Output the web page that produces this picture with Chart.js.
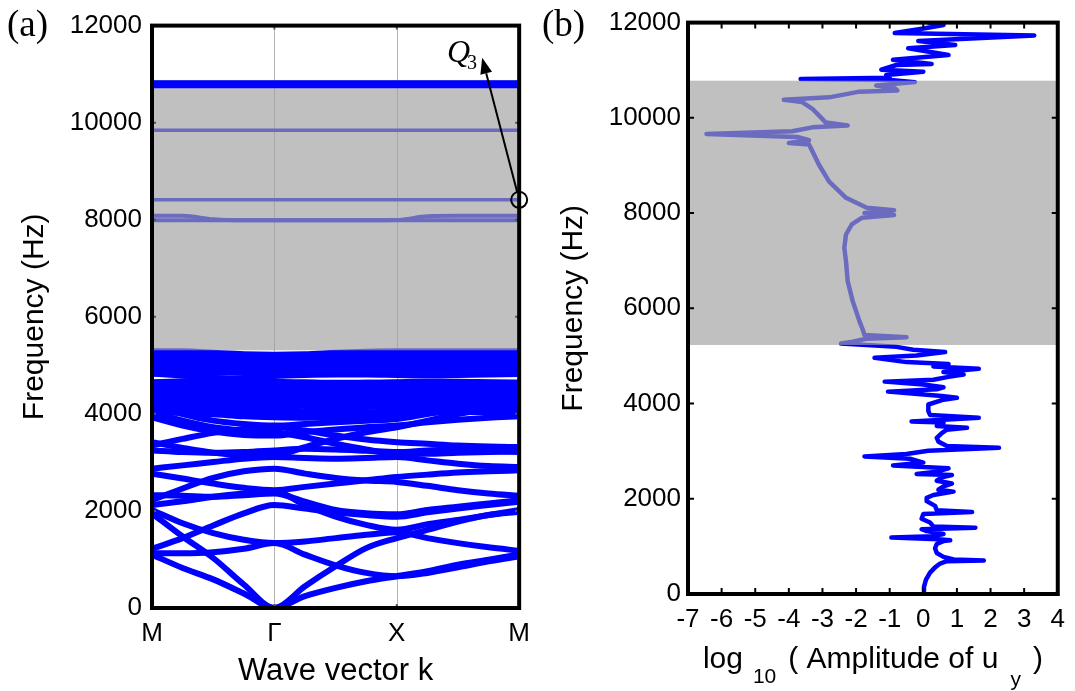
<!DOCTYPE html>
<html lang="en">
<head>
<meta charset="UTF-8">
<title>Band structure and response amplitude</title>
<script src="https://cdn.jsdelivr.net/npm/chart.js"></script>
<style>
  body { margin: 0; background: #fff; }
  .panel { position: absolute; top: 0; }
  #bandPanel { left: 0; width: 540px; height: 691px; }
  #ampPanel { left: 540px; width: 535px; height: 691px; }
</style>
</head>
<body>
<div id="bandPanel" class="panel"><canvas id="bandChart" width="540" height="691"></canvas></div>
<div id="ampPanel" class="panel"><canvas id="ampChart" width="535" height="691"></canvas></div>
<script>
// ---- (a) dispersion curves along M - Γ - X - M ----
const kPoints = [0, 0.25, 0.5, 0.75, 1, 1.25, 1.5, 1.75, 2, 2.25, 2.5, 2.75, 3];
const kLabels = ['M', 'Γ', 'X', 'M'];
const freqTicks = [0, 2000, 4000, 6000, 8000, 10000, 12000];

// flat bands in / above the gap
const bandTop  = [10790, 10790, 10790, 10790, 10790, 10790, 10790, 10790, 10790, 10790, 10790, 10790, 10790];
const band9845 = [9845, 9845, 9845, 9845, 9845, 9845, 9845, 9845, 9845, 9845, 9845, 9845, 9845];
const bandQ3   = [8411, 8411, 8411, 8411, 8411, 8411, 8411, 8411, 8411, 8411, 8411, 8411, 8411];
const band7990 = [7990, 7990, 7990, 7990, 7990, 7990, 7990, 7990, 7990, 7990, 7990, 7990, 7990];
const band8080 = [8080, 8080, 8010, 7990, 7990, 7990, 7990, 7990, 7995, 8070, 8080, 8080, 8080];

// dense bands just below the gap
const upperBands = [
  [5290, 5290, 5260, 5230, 5220, 5230, 5260, 5280, 5290, 5290, 5290, 5290, 5290],
  [5230, 5220, 5190, 5160, 5150, 5170, 5200, 5220, 5230, 5230, 5230, 5230, 5230],
  [5170, 5160, 5130, 5100, 5090, 5110, 5140, 5160, 5170, 5170, 5170, 5170, 5170],
  [5110, 5100, 5080, 5050, 5040, 5060, 5090, 5110, 5110, 5110, 5110, 5110, 5110],
  [5050, 5050, 5040, 5020, 5010, 5020, 5040, 5050, 5050, 5050, 5050, 5050, 5050],
  [4990, 4990, 4990, 4980, 4970, 4980, 4990, 5000, 5000, 4990, 4990, 4990, 4990],
  [4930, 4930, 4940, 4940, 4930, 4930, 4940, 4950, 4950, 4940, 4930, 4930, 4930],
  [4870, 4880, 4890, 4900, 4890, 4880, 4880, 4900, 4900, 4890, 4880, 4870, 4870],
  [4830, 4830, 4840, 4850, 4860, 4840, 4830, 4840, 4850, 4840, 4830, 4830, 4830],
  [4830, 4790, 4740, 4700, 4660, 4650, 4640, 4640, 4650, 4660, 4660, 4650, 4640],
  [4650, 4670, 4700, 4740, 4780, 4800, 4810, 4810, 4800, 4790, 4800, 4810, 4820]
];
const lowerBands = [
  [4640, 4640, 4620, 4600, 4590, 4600, 4620, 4640, 4640, 4640, 4640, 4640, 4640],
  [4580, 4580, 4570, 4560, 4540, 4550, 4570, 4580, 4590, 4590, 4580, 4580, 4580],
  [4520, 4520, 4510, 4500, 4490, 4500, 4510, 4520, 4530, 4530, 4520, 4520, 4520],
  [4460, 4460, 4460, 4450, 4440, 4450, 4460, 4470, 4470, 4470, 4460, 4460, 4460],
  [4400, 4400, 4400, 4380, 4370, 4390, 4400, 4410, 4410, 4410, 4400, 4400, 4400],
  [4340, 4340, 4320, 4290, 4270, 4290, 4320, 4350, 4350, 4350, 4340, 4340, 4340],
  [4280, 4270, 4240, 4220, 4230, 4250, 4270, 4290, 4290, 4290, 4290, 4280, 4280],
  [4220, 4200, 4170, 4150, 4150, 4170, 4200, 4220, 4230, 4230, 4220, 4220, 4220],
  [4160, 4140, 4100, 4060, 4040, 4060, 4100, 4140, 4160, 4170, 4160, 4160, 4160],
  [4100, 4080, 4040, 4020, 4030, 4020, 4010, 4030, 4060, 4080, 4090, 4100, 4100],
  [4040, 4020, 3990, 3950, 3930, 3920, 3930, 3960, 4000, 4020, 4040, 4040, 4040]
];
// lower branches, acoustic ones start at Γ
const lowBands = [
  [1100, 825, 590, 300, 0, 245, 416, 552, 655, 757, 893, 995, 1100],
  [1950, 1473, 1030, 484, 0, 450, 860, 1234, 1440, 1610, 1780, 1915, 1985],
  [1130, 1130, 1150, 1220, 1337, 1100, 880, 723, 655, 723, 840, 960, 1064],
  [1220, 1440, 1700, 1950, 2121, 2050, 1970, 1915, 1882, 1970, 2050, 2121, 2189],
  [2020, 1746, 1541, 1405, 1337, 1370, 1440, 1507, 1560, 1440, 1337, 1250, 1180],
  [2121, 2200, 2292, 2360, 2407, 2121, 1882, 1712, 1610, 1725, 1814, 1915, 2020],
  [2223, 2462, 2680, 2816, 2871, 2769, 2680, 2626, 2598, 2517, 2428, 2360, 2312],
  [2325, 2312, 2292, 2325, 2360, 2189, 2020, 1950, 1930, 2020, 2087, 2155, 2223],
  [2769, 2667, 2564, 2476, 2428, 2496, 2564, 2632, 2701, 2748, 2790, 2816, 2837],
  [2871, 2939, 3008, 3076, 3110, 3090, 3076, 3090, 3110, 3042, 2974, 2925, 2905],
  [3246, 3212, 3198, 3212, 3246, 3280, 3266, 3240, 3212, 3246, 3266, 3246, 3212],
  [3349, 3485, 3608, 3690, 3724, 3656, 3553, 3470, 3417, 3383, 3349, 3328, 3315],
  [3928, 3758, 3635, 3567, 3553, 3621, 3676, 3724, 3758, 3826, 3881, 3922, 3949],
  [4031, 3860, 3724, 3656, 3621, 3519, 3383, 3266, 3178, 3178, 3198, 3212, 3226],
  [4099, 4065, 4031, 4017, 4031, 3980, 3930, 3960, 4031, 4065, 4099, 4099, 4099],
  [4200, 3997, 3860, 3792, 3758, 3792, 3826, 3860, 3894, 3997, 4099, 4167, 4200],
  [3417, 3300, 3200, 3144, 3144, 3315, 3485, 3621, 3724, 3860, 3997, 4099, 4167]
];
const gapA = [5310, 10880];
const q3Freq = 8411;

// ---- (b) response amplitude vs frequency ----
const ampTicks = [-7, -6, -5, -4, -3, -2, -1, 0, 1, 2, 3, 4];
const gapB = [5230, 10780];
const freqB = [
  0, 150, 300, 450, 560, 640, 690, 705, 725, 780,
  860, 960, 1050, 1110, 1130, 1150, 1185, 1215, 1260, 1320,
  1360, 1390, 1420, 1500, 1580, 1680, 1720, 1760, 1850, 1950,
  2020, 2080, 2150, 2190, 2260, 2320, 2380, 2450, 2500, 2520,
  2570, 2640, 2700, 2760, 2840, 2890, 2940, 3010, 3070, 3110,
  3200, 3280, 3380, 3450, 3490, 3530, 3600, 3625, 3660, 3700,
  3760, 3840, 3980, 4080, 4120, 4160, 4250, 4300, 4340, 4400,
  4460, 4500, 4560, 4610, 4660, 4730, 4780, 4830, 4870, 4960,
  5010, 5080, 5130, 5190, 5260, 5300, 5360, 5391, 5440, 5550,
  5730, 6150, 6570, 6990, 7270, 7550, 7760, 7900, 7960, 8000,
  8060, 8110, 8320, 8660, 9010, 9300, 9440, 9470, 9530, 9600,
  9660, 9720, 9800, 9840, 9900, 10010, 10190, 10330, 10380, 10430,
  10550, 10575, 10620, 10680, 10750, 10800, 10815, 10840, 10900, 10970,
  11010, 11110, 11130, 11220, 11320, 11460, 11530, 11615, 11730, 11780,
  11880, 11950, 12000
];
const ampB = [
  0, 0.02, 0.08, 0.2, 0.35, 0.5, 0.7, 1.8, 0.9, 0.6,
  0.4, 0.35, 0.4, 0.6, 0.8, 0.45, -0.95, 0.3, 0.6, 0.1,
  -0.05, 1.55, 0.3, 0.2, -0.05, 0, 1.45, 0.4, 0.35, 0.1,
  0.1, 0.3, 0.9, 0.45, 0.6, 0.85, 0.4, 0.55, 0.85, -0.2,
  0.4, 0.75, -0.9, 0, -0.4, -1.75, -0.5, 0.15, 2.25, 0.7,
  0.45, 0.4, 0.55, 0.7, 1.3, 0.4, 0.6, -0.35, 0.6, 1.65,
  0.2, 0.15, 0.15, 0.6, 1.0, 0.55, -1.05, 0.4, 0.6, 0,
  -1.15, 0.3, 0.75, 1.2, 0.6, 1.65, 0.3, 0.75, -0.5, -1.45,
  -0.2, 0.65, -0.3, -0.8, -2.45, -2.1, -1.7, -0.5, -1.75, -1.8,
  -1.9, -2.1, -2.25, -2.3, -2.35, -2.3, -2.13, -1.83, -0.87, -1.75,
  -0.87, -1.68, -2.3, -2.8, -3.1, -3.3, -3.4, -4.0, -3.4, -3.75,
  -6.45, -3.9, -3.3, -2.25, -2.9, -3.05, -3.3, -3.6, -4.15, -2.8,
  -1.9, -0.77, -0.85, -1.4, -0.25, -1.05, -3.65, -1.0, -1.1, 0,
  -1.25, -0.8, 0.25, -0.9, 0.75, -0.45, 0.95, -0.15, 3.3, -0.85,
  0.05, 0.6, 0.15
];

const SANS = '"Liberation Sans", Arial, sans-serif';
const SERIF = '"Liberation Serif", "Times New Roman", serif';
const BLUE = '#0000ff';

function bandSet(values, width) {
  return {
    data: kPoints.map((k, i) => ({ x: k, y: values[i] })),
    showLine: true,
    borderColor: BLUE,
    borderWidth: width,
    pointRadius: 0,
    cubicInterpolationMode: 'monotone',
    borderJoinStyle: 'round'
  };
}

// translucent grey over the gap; lines beneath it turn lavender
function shadeGap(chart, gap) {
  const { ctx, chartArea: a, scales: { y } } = chart;
  const top = y.getPixelForValue(gap[1]);
  const bot = y.getPixelForValue(gap[0]);
  ctx.save();
  ctx.fillStyle = 'rgba(160,160,160,0.667)';
  ctx.fillRect(a.left, top, a.right - a.left, bot - top);
  ctx.restore();
}

function drawFrame(chart, tickLen, tickColor) {
  const { ctx, chartArea: a, scales: { x, y } } = chart;
  ctx.save();
  ctx.strokeStyle = tickColor;
  ctx.lineWidth = 2;
  ctx.beginPath();
  x.ticks.forEach(t => {
    const px = x.getPixelForValue(t.value);
    ctx.moveTo(px, a.bottom); ctx.lineTo(px, a.bottom - tickLen);
    ctx.moveTo(px, a.top); ctx.lineTo(px, a.top + tickLen);
  });
  y.ticks.forEach(t => {
    const py = y.getPixelForValue(t.value);
    ctx.moveTo(a.left, py); ctx.lineTo(a.left + tickLen, py);
    ctx.moveTo(a.right, py); ctx.lineTo(a.right - tickLen, py);
  });
  ctx.stroke();
  ctx.strokeStyle = '#000';
  ctx.lineWidth = 4;
  ctx.strokeRect(a.left, a.top, a.right - a.left, a.bottom - a.top);
  ctx.restore();
}

function panelLetter(ctx, text, x) {
  ctx.save();
  ctx.fillStyle = '#000';
  ctx.font = '37px ' + SERIF;
  ctx.textBaseline = 'alphabetic';
  ctx.fillText(text, x, 36);
  ctx.restore();
}

const bandDecor = {
  id: 'bandDecor',
  beforeDatasetsDraw(chart) {
    const { ctx, chartArea: a, scales: { x } } = chart;
    ctx.save();
    ctx.strokeStyle = '#6a6a6a';
    ctx.lineWidth = 1;
    ctx.setLineDash([1, 1]);
    [1, 2].forEach(v => {
      const px = Math.round(x.getPixelForValue(v)) + 0.5;
      ctx.beginPath();
      ctx.moveTo(px, a.top);
      ctx.lineTo(px, a.bottom);
      ctx.stroke();
    });
    ctx.restore();
  },
  beforeDatasetDraw(chart, args) {
    // dataset 0 (top band) is drawn last, above the shading
    if (args.index === 0) shadeGap(chart, gapA);
  },
  afterDraw(chart) {
    const { ctx, scales: { x, y } } = chart;
    drawFrame(chart, 4, '#555');
    panelLetter(ctx, '(a)', 7);

    // Q3 marker: circle on the band at M, arrow up to the label
    const cx = x.getPixelForValue(3);
    const cy = y.getPixelForValue(q3Freq);
    const tipX = cx - 37, tipY = cy - 142;
    const len = Math.hypot(tipX - cx, tipY - cy);
    const ux = (tipX - cx) / len, uy = (tipY - cy) / len;
    ctx.save();
    ctx.strokeStyle = '#000';
    ctx.fillStyle = '#000';
    ctx.lineWidth = 2;
    ctx.beginPath();
    ctx.arc(cx, cy, 8, 0, Math.PI * 2);
    ctx.stroke();
    const headLen = 16, headW = 6;
    const bx = tipX - ux * headLen, by = tipY - uy * headLen;
    ctx.beginPath();
    ctx.moveTo(cx + ux * 8, cy + uy * 8);
    ctx.lineTo(bx, by);
    ctx.stroke();
    ctx.beginPath();
    ctx.moveTo(tipX, tipY);
    ctx.lineTo(bx - uy * headW, by + ux * headW);
    ctx.lineTo(bx + uy * headW, by - ux * headW);
    ctx.closePath();
    ctx.fill();
    ctx.font = 'italic 32px ' + SERIF;
    ctx.fillText('Q', 447, 62);
    const qw = ctx.measureText('Q').width;
    ctx.font = '20px ' + SERIF;
    ctx.fillText('3', 447 + qw - 3, 69);
    ctx.restore();
  }
};

const ampDecor = {
  id: 'ampDecor',
  afterDatasetsDraw(chart) {
    shadeGap(chart, gapB);
  },
  afterDraw(chart) {
    const { ctx, chartArea: a } = chart;
    drawFrame(chart, 6, '#000');
    panelLetter(ctx, '(b)', 2);

    // x title with subscripts: log10 ( Amplitude of uy )
    const parts = [
      { t: 'log', size: 30, dy: 0, gap: 10 },
      { t: '10', size: 21, dy: 15, gap: 12 },
      { t: '( Amplitude of u', size: 30, dy: 0, gap: 12 },
      { t: 'y', size: 21, dy: 18, gap: 12 },
      { t: ')', size: 30, dy: 0, gap: 0 }
    ];
    ctx.save();
    ctx.fillStyle = '#000';
    let total = 0;
    parts.forEach(p => {
      ctx.font = p.size + 'px ' + SANS;
      p.w = ctx.measureText(p.t).width;
      total += p.w + p.gap;
    });
    let px = (a.left + a.right) / 2 - total / 2;
    const base = 668;
    parts.forEach(p => {
      ctx.font = p.size + 'px ' + SANS;
      ctx.fillText(p.t, px, base + p.dy);
      px += p.w + p.gap;
    });
    ctx.restore();
  }
};

const tickFont = { family: SANS, size: 26 };
const titleFont = { family: SANS, size: 30 };

new Chart(document.getElementById('bandChart'), {
  type: 'scatter',
  data: {
    datasets: [
      bandSet(bandTop, 8),
      bandSet(band9845, 3.5),
      bandSet(bandQ3, 3.5),
      bandSet(band7990, 4),
      bandSet(band8080, 4),
      ...upperBands.map(b => bandSet(b, 6)),
      ...lowerBands.map(b => bandSet(b, 6)),
      ...lowBands.map(b => bandSet(b, 6))
    ]
  },
  options: {
    responsive: false,
    animation: false,
    devicePixelRatio: 1,
    layout: { padding: { left: 0, top: 19, right: 19, bottom: 0 } },
    plugins: { legend: { display: false }, tooltip: { enabled: false } },
    scales: {
      x: {
        type: 'linear', min: 0, max: 3,
        grid: { display: false, drawTicks: false },
        border: { display: false },
        ticks: {
          stepSize: 1, padding: 10, color: '#000', font: tickFont,
          autoSkip: false, maxRotation: 0,
          callback: v => kLabels[v] ?? ''
        },
        title: { display: true, text: 'Wave vector k', color: '#000', font: { family: SANS, size: 31 }, padding: { top: 0, bottom: 1 } },
        afterFit: s => { s.height = 83; }
      },
      y: {
        min: 0, max: 12000,
        grid: { display: false, drawTicks: false },
        border: { display: false },
        afterBuildTicks: s => { s.ticks = freqTicks.map(v => ({ value: v })); },
        ticks: { padding: 10, color: '#000', font: tickFont, callback: v => String(v) },
        title: { display: true, text: 'Frequency (Hz)', color: '#000', font: titleFont, padding: { top: 17, bottom: 0 } },
        afterFit: s => { s.width = 152; }
      }
    }
  },
  plugins: [bandDecor]
});

new Chart(document.getElementById('ampChart'), {
  type: 'scatter',
  data: {
    datasets: [{
      data: freqB.map((f, i) => ({ x: ampB[i], y: f })),
      showLine: true,
      borderColor: BLUE,
      borderWidth: 4.5,
      pointRadius: 0,
      borderJoinStyle: 'round',
      borderCapStyle: 'round'
    }]
  },
  options: {
    responsive: false,
    animation: false,
    devicePixelRatio: 1,
    layout: { padding: { left: 0, top: 20, right: 15, bottom: 0 } },
    plugins: { legend: { display: false }, tooltip: { enabled: false } },
    scales: {
      x: {
        type: 'linear', min: -7, max: 4,
        grid: { display: false, drawTicks: false },
        border: { display: false },
        afterBuildTicks: s => { s.ticks = ampTicks.map(v => ({ value: v })); },
        ticks: { padding: 10, color: '#000', font: tickFont, autoSkip: false, maxRotation: 0, callback: v => String(v) },
        afterFit: s => { s.height = 97; }
      },
      y: {
        min: 0, max: 12000,
        grid: { display: false, drawTicks: false },
        border: { display: false },
        afterBuildTicks: s => { s.ticks = freqTicks.map(v => ({ value: v })); },
        ticks: { padding: 7, color: '#000', font: tickFont, callback: v => String(v) },
        title: { display: true, text: 'Frequency (Hz)', color: '#000', font: titleFont, padding: { top: 16, bottom: 0 } },
        afterFit: s => { s.width = 148; }
      }
    }
  },
  plugins: [ampDecor]
});
</script>
</body>
</html>
